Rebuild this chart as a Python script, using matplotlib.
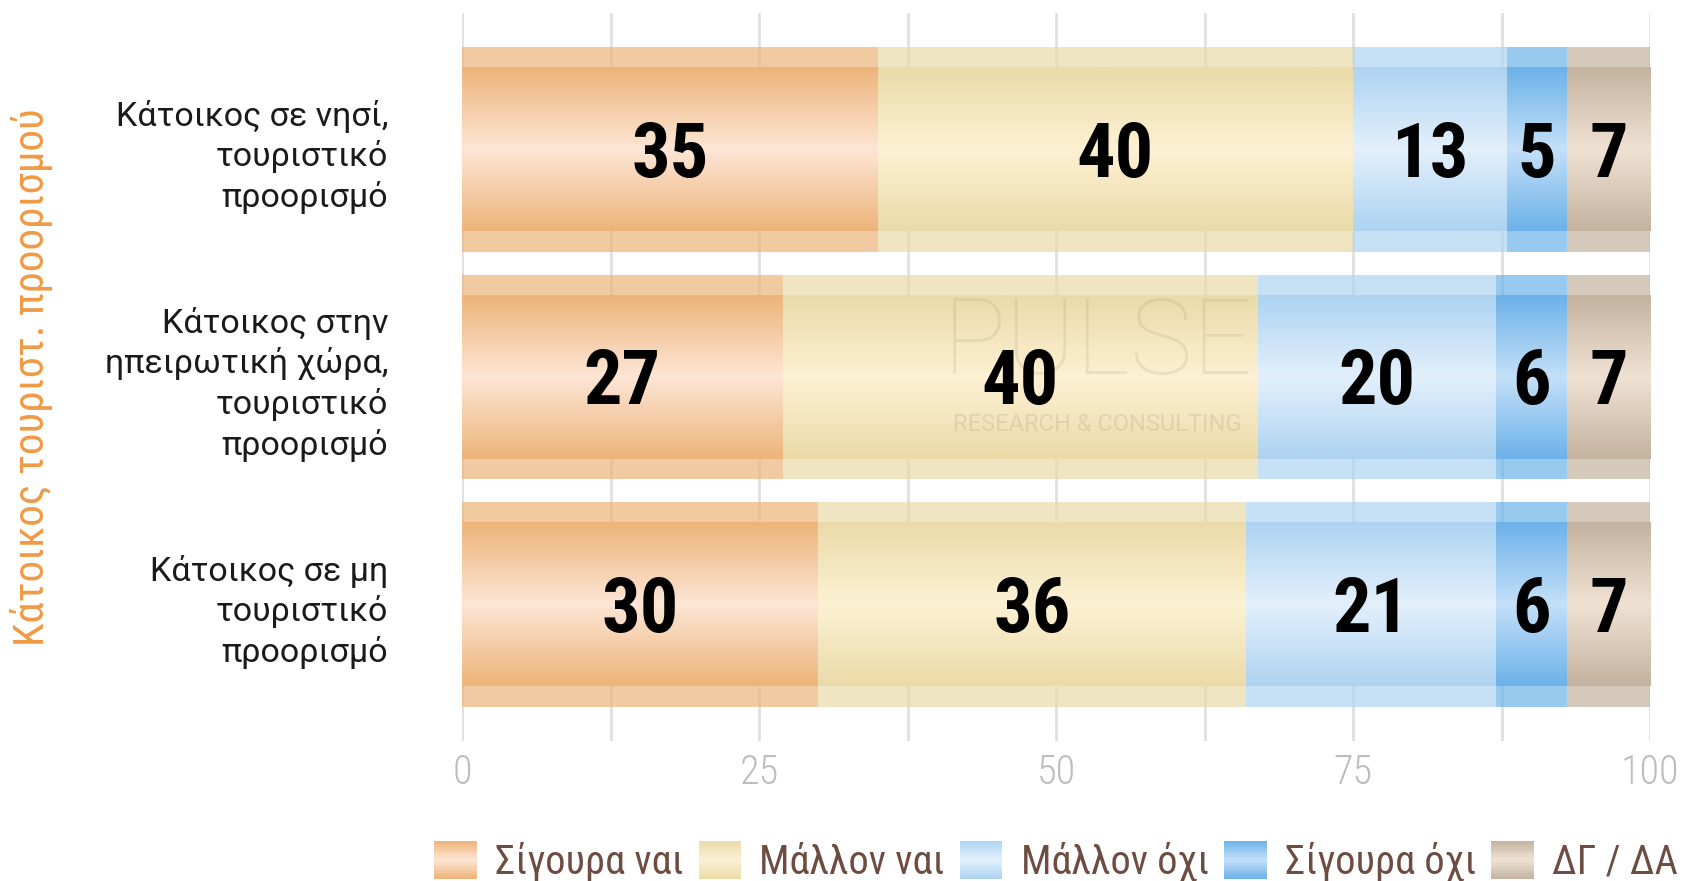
import numpy as np
import matplotlib
matplotlib.use("Agg")
import matplotlib.pyplot as plt
from matplotlib import font_manager
from matplotlib.colors import to_rgb
from matplotlib.legend_handler import HandlerBase
from matplotlib.patches import Rectangle, Patch
from matplotlib.transforms import offset_copy

# ---------------- data ----------------
categories = [
    "Κάτοικος σε νησί,\nτουριστικό\nπροορισμό",
    "Κάτοικος στην\nηπειρωτική χώρα,\nτουριστικό\nπροορισμό",
    "Κάτοικος σε μη\nτουριστικό\nπροορισμό",
]
series = ["Σίγουρα ναι", "Μάλλον ναι", "Μάλλον όχι", "Σίγουρα όχι", "ΔΓ / ΔΑ"]
sigoura_nai = [35, 27, 30]
mallon_nai = [40, 40, 36]
mallon_oxi = [13, 20, 21]
sigoura_oxi = [5, 6, 6]
dg_da = [7, 7, 7]
values = [sigoura_nai, mallon_nai, mallon_oxi, sigoura_oxi, dg_da]
xticks = [0, 25, 50, 75, 100]
ytitle = "Κάτοικος τουριστ. προορισμού"

# ---------------- style ----------------
edge_cols = ["#EDB47A", "#EBDBA9", "#AED3F1", "#6DB2E9", "#C4B3A0"]
center_cols = ["#FDE6D6", "#FCF1D3", "#E3F0FC", "#C4E0F8", "#F0E2D3"]

names = {f.name for f in font_manager.fontManager.ttflist}
def pick(*cands):
    for c in cands:
        if c in names:
            return c
    return "DejaVu Sans"

cond = pick("Roboto Condensed", "Liberation Sans Narrow", "Roboto")
plain = pick("Roboto", "DejaVu Sans")


def grad(c_edge, c_mid, n=64):
    t = np.linspace(0, 1, n)
    w = 1 - np.abs(2 * t - 1)
    a = np.array(to_rgb(c_edge))
    b = np.array(to_rgb(c_mid))
    return a[None, :] + (b - a)[None, :] * w[:, None]


class GradHandler(HandlerBase):
    def __init__(self, edge, mid):
        super().__init__()
        self.edge, self.mid = edge, mid

    def create_artists(self, legend, orig, xd, yd, width, height, fontsize, trans):
        g = grad(self.edge, self.mid, 24)
        arts = []
        h = height / len(g)
        for i, c in enumerate(g):
            r = Rectangle((-xd, -yd + height - (i + 1) * h), width, h * 1.05,
                          facecolor=c, edgecolor="none", transform=trans)
            arts.append(r)
        return arts


fig = plt.figure(figsize=(16.84, 8.81), dpi=100)
ax = fig.add_axes([462 / 1684, 140 / 881, 1188 / 1684, 728 / 881])

# numbers sit on their baseline, pushed down by half the digit height
num_trans = offset_copy(ax.transData, fig=fig, y=-19.5, units="points")

y = np.arange(len(categories))
left = np.zeros(len(categories))
for k, vals in enumerate(values):
    vals = np.array(vals, dtype=float)
    ax.barh(y, vals, left=left, height=0.9, color=edge_cols[k], alpha=0.7,
            linewidth=0, zorder=2)
    inner = ax.barh(y, vals, left=left, height=0.72, color=edge_cols[k],
                    linewidth=0, zorder=3)
    g = grad(edge_cols[k], center_cols[k])[:, None, :]
    for b in inner:
        x0, y0, w, h = b.get_x(), b.get_y(), b.get_width(), b.get_height()
        ax.imshow(g, extent=(x0, x0 + w, y0 + h, y0), aspect="auto",
                  interpolation="bilinear", zorder=3.5)
    for yi, v, l in zip(y, vals, left):
        ax.text(l + v / 2, yi, f"{v:.0f}", ha="center", va="baseline",
                fontsize=55, fontweight="bold", family=cond, color="black",
                transform=num_trans, zorder=6)
    left = left + vals

# faint watermark
ax.text(53.5, 0.86, "PULSE", ha="center", va="center", fontsize=76,
        family=plain, fontweight="light", color="#7a6a50", alpha=0.12, zorder=5)
ax.text(53.5, 1.21, "RESEARCH & CONSULTING", ha="center", va="center",
        fontsize=17, family=plain, color="#7a6a50", alpha=0.15, zorder=5)

ax.set_xlim(0, 100)
ax.set_ylim(2.6, -0.6)
ax.set_xticks(xticks)
ax.set_xticks(np.arange(12.5, 100, 25), minor=True)
ax.grid(axis="x", which="both", color="#E0E0E0", linewidth=2)
ax.set_axisbelow(True)
for s in ax.spines.values():
    s.set_visible(False)
ax.tick_params(axis="both", which="both", length=0)
ax.tick_params(axis="x", pad=9, labelsize=29, labelcolor="#BDBDBD")
for lbl in ax.get_xticklabels():
    lbl.set_family(cond)
    lbl.set_fontweight("light")

ax.set_yticks(y)
ax.set_yticklabels(categories, fontsize=24.5, family=plain, color="#1a1a1a",
                   linespacing=1.3, multialignment="right")
ax.tick_params(axis="y", pad=53)

ax.set_ylabel(ytitle, fontsize=31, family=cond, color="#EF9A45", va="center")
ax.yaxis.set_label_coords(-0.362, 0.5)

handles = [Patch(label=s) for s in series]
hmap = {h: GradHandler(edge_cols[i], center_cols[i]) for i, h in enumerate(handles)}
ax.legend(handles=handles, handler_map=hmap, loc="center",
          bbox_to_anchor=(0.5, -0.165), ncol=5, frameon=False,
          prop={"family": cond, "size": 29}, labelcolor="#6D4C41",
          handlelength=1.05, handleheight=1.1, handletextpad=0.45,
          columnspacing=0.38, borderpad=0)

fig.savefig("out.png", dpi=100)
